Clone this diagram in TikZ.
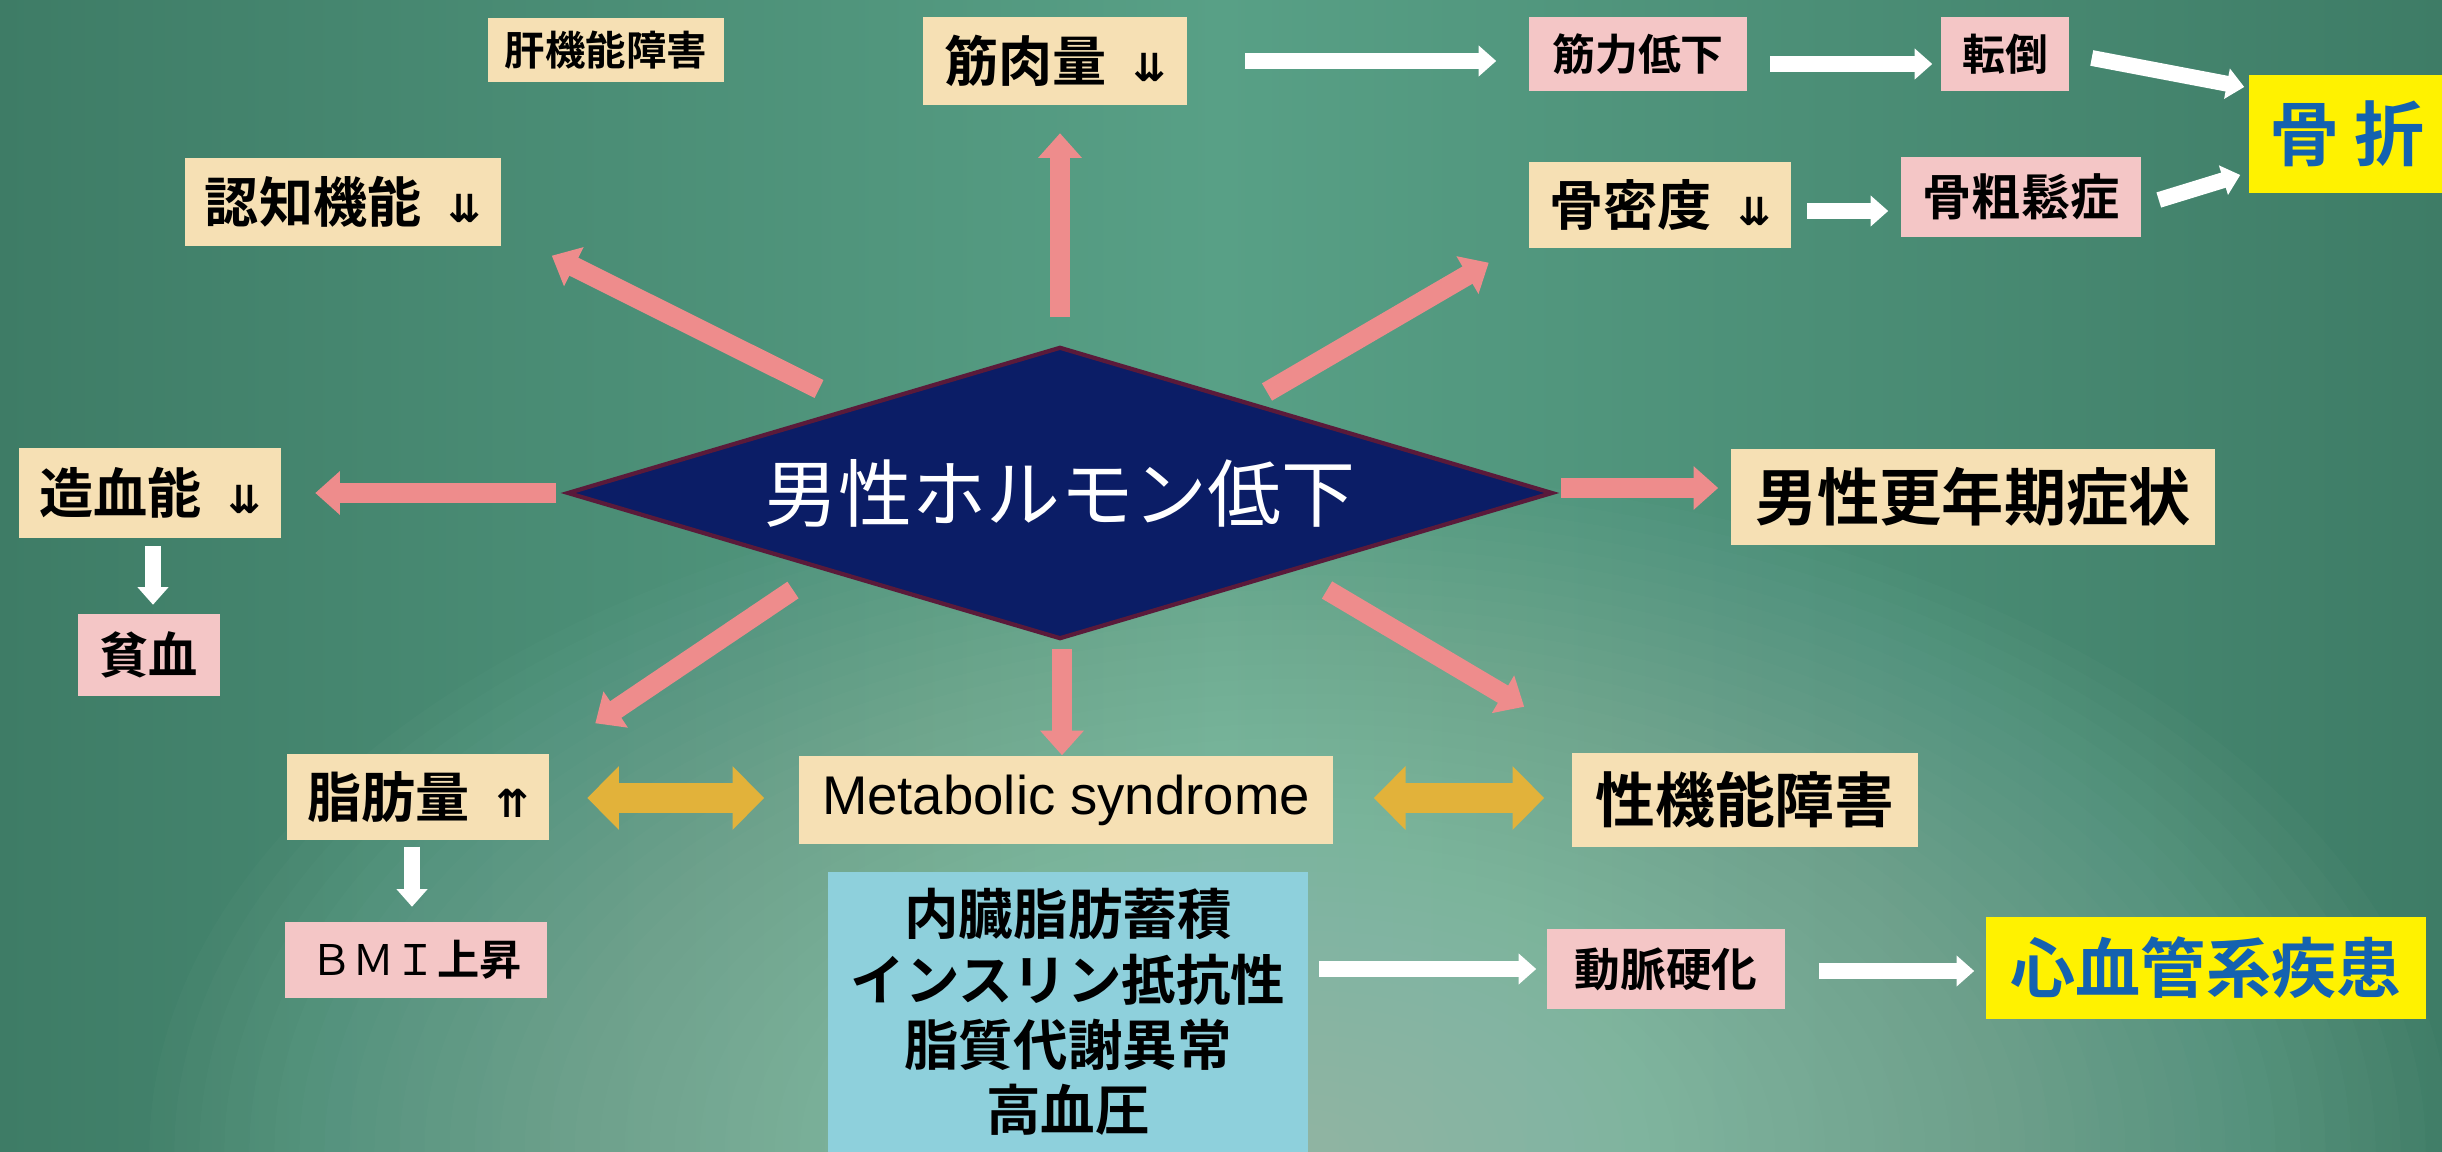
\documentclass[tikz,border=0pt]{standalone}
\usepackage{fontspec}
\setmainfont{Noto Sans CJK JP}[BoldFont={Noto Sans CJK JP Bold}]
\newfontfamily\dv{DejaVu Sans}
\newfontfamily\lib{Liberation Sans}
\usetikzlibrary{shapes.geometric,arrows.meta,calc}
\definecolor{wheat}{HTML}{F6E0B4}
\definecolor{pinkbox}{HTML}{F4C6C6}
\definecolor{pinkarr}{HTML}{EE8C8C}
\definecolor{goldarr}{HTML}{E2B23A}
\definecolor{navy}{HTML}{0B1D66}
\definecolor{maroon}{HTML}{5A1A3A}
\definecolor{lblue}{HTML}{8ED0DC}
\definecolor{cvdblue}{HTML}{1462B0}
\definecolor{bgdark}{HTML}{3E7C66}
\definecolor{bgmid}{HTML}{58A086}
\definecolor{bglight}{HTML}{B5D8C6}
\newcommand\ddarr{{\dv\bfseries\fontsize{11}{11}\selectfont ⇊}}
\newcommand\uuarr{{\dv\bfseries\fontsize{11}{11}\selectfont ⇈}}
\newcommand\fsz[1]{\fontsize{#1}{#1}\selectfont}
\tikzset{
  box/.style={inner sep=0pt, align=center, font=\bfseries},
  wbox/.style={box, fill=wheat},
  pbox/.style={box, fill=pinkbox},
  ybox/.style={box, fill=yellow, text=cvdblue},
  pinkarrow/.style={draw=pinkarr, line width=5.7pt, -{Triangle[length=7pt,width=12pt]}},
  whitearrow/.style={draw=white, line width=4.5pt, -{Triangle[length=5pt,width=8.5pt]}},
  goldarrow/.style={draw=goldarr, line width=8.8pt, {Triangle[length=9pt,width=17.6pt]}-{Triangle[length=9pt,width=17.6pt]}}
}
\begin{document}
\begin{tikzpicture}[x=0.01cm,y=-0.01cm]
\useasboundingbox (0,0) rectangle (2442,1152);
\begin{scope}
\clip (0,0) rectangle (2442,1152);
\shade[left color=bgdark, right color=bgdark, middle color=bgmid] (0,0) rectangle (2442,1152);
\foreach \i in {0,...,44} {
  \pgfmathsetmacro\rx{11.5-0.25*\i}
  \pgfmathsetmacro\ry{6.8-0.148*\i}
  \fill[bglight, opacity=0.026] (1300,1152) ellipse [x radius=\rx cm, y radius=\ry cm];
}
\end{scope}

% central diamond
\node[diamond, draw=maroon, line width=1.2pt, fill=navy, text=white, aspect=3.37,
      minimum width=9.85cm, minimum height=2.92cm, inner sep=0pt,
      font=\fsz{21}] (dia) at (1060,493) {男性ホルモン低下};

% boxes
\node[wbox, minimum width=2.35cm, minimum height=0.64cm, font=\bfseries\fsz{11.5}] (liver) at (606,50) {肝機能障害};
\node[wbox, minimum width=2.63cm, minimum height=0.87cm, font=\bfseries\fsz{15.4}] (muscle) at (1055,61) {筋肉量\hspace{0.5em}\ddarr};
\node[wbox, minimum width=3.16cm, minimum height=0.88cm, font=\bfseries\fsz{15.4}] (cog) at (343,202) {認知機能\hspace{0.5em}\ddarr};
\node[pbox, minimum width=2.18cm, minimum height=0.74cm, font=\bfseries\fsz{12.2}] (mstr) at (1638,54) {筋力低下};
\node[pbox, minimum width=1.28cm, minimum height=0.74cm, font=\bfseries\fsz{12.2}] (fall) at (2005,54) {転倒};
\node[ybox, minimum width=1.96cm, minimum height=1.17cm, font=\bfseries\fsz{20}] (frac) at (2347,134) {骨\hspace{4pt}折};
\node[wbox, minimum width=2.61cm, minimum height=0.86cm, font=\bfseries\fsz{15.4}] (bmd) at (1660,205) {骨密度\hspace{0.5em}\ddarr};
\node[pbox, minimum width=2.40cm, minimum height=0.79cm, font=\bfseries\fsz{14}] (osteo) at (2021,197) {骨粗鬆症};
\node[wbox, minimum width=2.61cm, minimum height=0.89cm, font=\bfseries\fsz{15.4}] (blood) at (150,493) {造血能\hspace{0.5em}\ddarr};
\node[pbox, minimum width=1.41cm, minimum height=0.81cm, font=\bfseries\fsz{14}] (anemia) at (149,655) {貧血};
\node[wbox, minimum width=4.84cm, minimum height=0.96cm, font=\bfseries\fsz{17.7}] (meno) at (1973,497) {男性更年期症状};
\node[wbox, minimum width=2.61cm, minimum height=0.86cm, font=\bfseries\fsz{15.4}] (fat) at (418,797) {脂肪量\hspace{0.5em}\uuarr};
\node[pbox, minimum width=2.61cm, minimum height=0.75cm, font=\fsz{12}] (bmi) at (416,960) {ＢＭＩ\textbf{上昇}};
\node[wbox, minimum width=5.34cm, minimum height=0.88cm, font=\lib\fsz{15.5}] (meta) at (1066,800) {Metabolic syndrome};
\node[wbox, minimum width=3.46cm, minimum height=0.93cm, font=\bfseries\fsz{17}] (sex) at (1745,800) {性機能障害};
\node[box, fill=lblue, minimum width=4.79cm, minimum height=2.79cm, font=\bfseries\fontsize{15.5}{18.6}\selectfont] (blue) at (1068,1012) {内臓脂肪蓄積\\インスリン抵抗性\\脂質代謝異常\\高血圧};
\node[pbox, minimum width=2.38cm, minimum height=0.80cm, font=\bfseries\fsz{13}] (athero) at (1666,969) {動脈硬化};
\node[ybox, minimum width=4.40cm, minimum height=1.02cm, font=\bfseries\fsz{18.5}] (cvd) at (2206,968) {心血管系疾患};

% pink arrows from diamond
\draw[pinkarrow] ($(dia.north)+(0,-28)$) -- ($(dia.north |- muscle.south)+(0,28)$);
\draw[pinkarrow] ($(dia.west)+(-9,0)$) -- ($(blood.east)+(34,0)$);
\draw[pinkarrow] ($(dia.east)+(6,-5)$) -- ($(meno.west)+(-12,-9)$);
\draw[pinkarrow] ($(dia.center)+(-241,-104)$) -- ($(cog.south east)+(50,9)$);
\draw[pinkarrow] ($(dia.center)+(207,-101)$) -- ($(bmd.south west)+(-40,14)$);
\draw[pinkarrow] ($(dia.center)+(-267,97)$) -- ($(fat.north east)+(46,-30)$);
\draw[pinkarrow] ($(dia.center)+(267,97)$) -- ($(sex.north west)+(-47,-46)$);
\draw[pinkarrow] ($(dia.south)+(2,8)$) -- ($(dia.south |- meta.north)+(2,0)$);

% white arrows
\draw[whitearrow] ($(muscle.east)+(58,0)$) -- ($(mstr.west)+(-32,7)$);
\draw[whitearrow] ($(mstr.east)+(22,10)$) -- ($(fall.west)+(-8,10)$);
\draw[whitearrow] ($(fall.east)+(22,4)$) -- ($(frac.west)+(-4,-47)$);
\draw[whitearrow] ($(bmd.east)+(16,6)$) -- ($(osteo.west)+(-12,14)$);
\draw[whitearrow] ($(osteo.east)+(17,3)$) -- ($(frac.west)+(-8,41)$);
\draw[whitearrow] ($(blood.south)+(3,8)$) -- ($(anemia.north)+(4,-9)$);
\draw[whitearrow] ($(fat.south)+(-6,6)$) -- ($(bmi.north)+(-4,-15)$);
\draw[whitearrow] ($(blue.east)+(11,-43)$) -- ($(athero.west)+(-10,0)$);
\draw[whitearrow] ($(athero.east)+(33,2)$) -- ($(cvd.west)+(-11,3)$);

% gold double arrows
\draw[goldarrow] ($(fat.east)+(38,1)$) -- ($(meta.west)+(-34,-2)$);
\draw[goldarrow] ($(meta.east)+(40,-2)$) -- ($(sex.west)+(-27,-2)$);
\end{tikzpicture}
\end{document}
